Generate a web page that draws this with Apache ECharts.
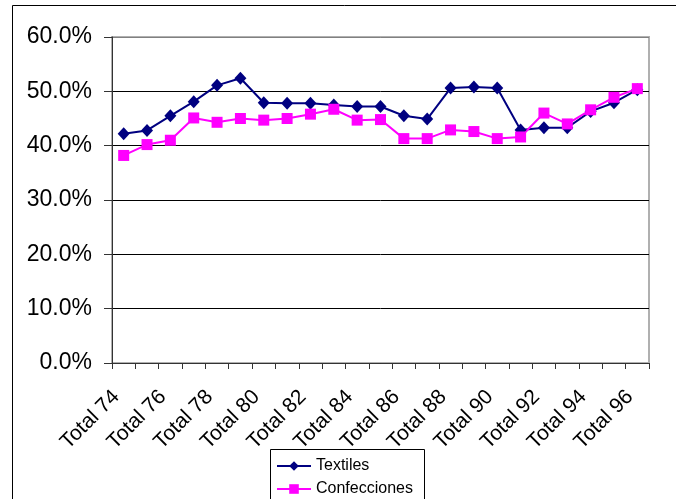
<!DOCTYPE html>
<html>
<head>
<meta charset="utf-8">
<script src="https://cdn.jsdelivr.net/npm/echarts@6/dist/echarts.min.js"></script>
<style>
html,body{margin:0;padding:0;background:#fff;}
#c{width:676px;height:499px;}
</style>
</head>
<body>
<div id="c"></div>
<script>
var categories = ['Total 74','Total 75','Total 76','Total 77','Total 78','Total 79','Total 80','Total 81','Total 82','Total 83','Total 84','Total 85','Total 86','Total 87','Total 88','Total 89','Total 90','Total 91','Total 92','Total 93','Total 94','Total 95','Total 96'];
var textiles = [42.2,42.8,45.5,48.1,51.1,52.4,47.9,47.8,47.8,47.5,47.2,47.2,45.5,44.9,50.6,50.8,50.6,42.9,43.3,43.3,46.3,47.9,50.3];
var confecciones = [38.2,40.2,41.0,45.1,44.3,45.0,44.7,45.0,45.8,46.7,44.7,44.8,41.3,41.3,42.9,42.6,41.3,41.6,46.0,44.0,46.6,48.9,50.5];
var yTicks = [0,10,20,30,40,50,60];
var seriesNames = ['Textiles','Confecciones'];

var chart = echarts.init(document.getElementById('c'));
var font = 'Liberation Sans, Arial, sans-serif';
function legendFor(name, top) {
  return {
    orient: 'horizontal', left: 270, top: top,
    data: [name],
    itemWidth: 34, itemHeight: 12,
    padding: [0, 0, 0, 6],
    textStyle: {fontFamily: font, fontSize: 16, color: '#000'}
  };
}
chart.setOption({
  animation: false,
  backgroundColor: '#fff',
  graphic: [{
    type: 'rect', silent: true, z: 0,
    shape: {x: 12.5, y: 5.5, width: 900, height: 700},
    style: {fill: 'none', stroke: '#000', lineWidth: 1}
  }, {
    type: 'rect', silent: true, z: 0,
    shape: {x: 270.5, y: 449.5, width: 154, height: 80},
    style: {fill: 'none', stroke: '#000', lineWidth: 1}
  }],
  grid: {left: 112, right: 27, top: 37, bottom: 136, show: true, borderColor: '#b0b0b0', borderWidth: 2, backgroundColor: 'transparent'},
  legend: [legendFor(seriesNames[0], 458), legendFor(seriesNames[1], 481)],
  xAxis: {
    type: 'category', data: categories, boundaryGap: true,
    axisLine: {lineStyle: {color: '#333', width: 1}},
    axisTick: {show: true, interval: 0, length: 6, lineStyle: {color: '#333'}},
    axisLabel: {interval: 1, rotate: 45, margin: 38, verticalAlign: 'bottom', fontFamily: font, fontSize: 21, color: '#000'},
    splitLine: {show: false}
  },
  yAxis: {
    type: 'value', min: yTicks[0], max: yTicks[yTicks.length-1], interval: 10,
    axisLine: {show: true, lineStyle: {color: '#333'}},
    axisTick: {show: true, length: 8, lineStyle: {color: '#333'}},
    axisLabel: {margin: 20, fontFamily: font, fontSize: 23, color: '#000', formatter: function(v){return v.toFixed(1)+'%';}},
    splitLine: {show: true, lineStyle: {color: ['#000','#000','#000','#000','#000','#000','#808080'], width: 1}}
  },
  series: [
    {name: seriesNames[0], type: 'line', data: textiles, symbol: 'diamond', symbolSize: [12,13],
     itemStyle: {color: '#000080'}, lineStyle: {color: '#000080', width: 2}},
    {name: seriesNames[1], type: 'line', data: confecciones, symbol: 'rect', symbolSize: 11,
     itemStyle: {color: '#FF00FF'}, lineStyle: {color: '#FF00FF', width: 2}}
  ]
});
</script>
</body>
</html>
